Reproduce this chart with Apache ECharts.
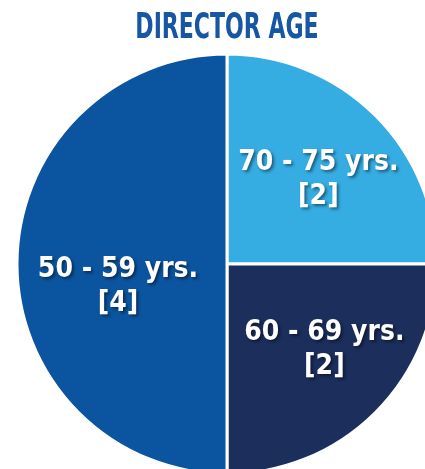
<!DOCTYPE html>
<html>
<head>
<meta charset="utf-8">
<script src="https://cdn.jsdelivr.net/npm/echarts@6/dist/echarts.min.js"></script>
<style>
  html, body { margin: 0; padding: 0; background: #fff; }
  #chart { width: 425px; height: 469px; }
</style>
</head>
<body>
<div id="chart"></div>
<script>
// age groups, clockwise from 12 o'clock
const categories = ['70 - 75 yrs.', '60 - 69 yrs.', '50 - 59 yrs.']
const counts = [2, 2, 4]
const colors = ['#35ace2', '#1b2e5c', '#0b549f']
// label nudges relative to the slice centre
const labelShift = [[15, -8], [21, 9], [-1, 23]]

const font = '"Liberation Sans Narrow", "Arial Narrow", "DejaVu Sans Condensed", sans-serif'

const chart = echarts.init(document.getElementById('chart'))
chart.setOption({
  animation: false,
  graphic: [{
    type: 'text',
    x: 227,
    y: 29,
    scaleX: 0.7,
    silent: true,
    style: {
      text: 'DIRECTOR AGE',
      fontFamily: font,
      fontWeight: 'bold',
      fontSize: 35,
      fill: '#1656a3',
      textAlign: 'center',
      textVerticalAlign: 'middle'
    }
  }],
  series: [{
    type: 'pie',
    center: [227, 264],
    radius: 210,
    startAngle: 90,
    clockwise: true,
    silent: true,
    itemStyle: {
      borderColor: '#fff',
      borderWidth: 3
    },
    label: {
      position: 'inside',
      formatter: p => p.name + '\n[' + p.value + ']',
      color: '#fff',
      fontFamily: font,
      fontWeight: 'bold',
      fontSize: 28,
      lineHeight: 34,
      align: 'center',
      textShadowColor: 'rgba(0,0,0,0.45)',
      textShadowBlur: 3,
      textShadowOffsetX: 2,
      textShadowOffsetY: 2
    },
    labelLayout: p => ({ dx: labelShift[p.dataIndex][0], dy: labelShift[p.dataIndex][1] }),
    labelLine: { show: false },
    data: categories.map((c, i) => ({
      name: c,
      value: counts[i],
      itemStyle: { color: colors[i] }
    }))
  }]
})
</script>
</body>
</html>
